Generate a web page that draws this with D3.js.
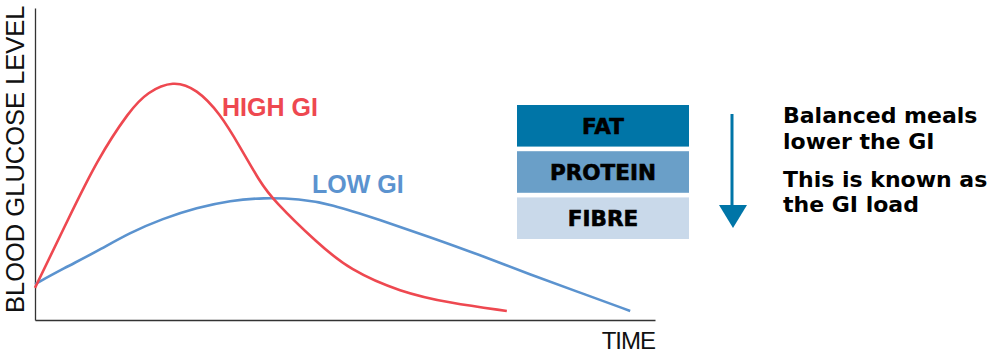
<!DOCTYPE html>
<html>
<head>
<meta charset="utf-8">
<script src="https://cdn.jsdelivr.net/npm/d3@7"></script>
<style>
  body { margin: 0; background: #fff; }
  svg { display: block; }
</style>
</head>
<body>
<div id="chart"></div>
<script>
// Set dimensions and margins
const width = 1000;
const height = 353;
const margin = {left: 35, right: 345, top: 8, bottom: 33};

// Curve data (time units, glucose units)
const highTime = [0, 0.53, 1.00, 1.53, 1.81, 2.23, 2.61, 2.98, 3.31, 3.63, 3.84, 4.55, 5.08, 5.89, 6.69, 7.61];
const highGlucose = [1.03, 3.21, 5.13, 6.73, 7.30, 7.68, 7.40, 6.63, 5.54, 4.42, 3.85, 2.47, 1.60, 0.90, 0.54, 0.29];
const lowTime = [0, 0.45, 1.00, 1.53, 2.06, 2.61, 3.15, 3.68, 4.27, 4.76, 5.56, 6.37, 7.18, 7.98, 8.79, 9.60];
const lowGlucose = [1.15, 1.64, 2.20, 2.80, 3.25, 3.60, 3.83, 3.92, 3.88, 3.72, 3.21, 2.66, 2.08, 1.46, 0.88, 0.29];

// Stacked nutrient boxes
const nutrients = ["FAT", "PROTEIN", "FIBRE"];
const nutrientColors = ["#0075a7", "#6a9fc8", "#c9d9ea"];

// Side notes
const noteLines = ["Balanced meals", "lower the GI", "", "This is known as", "the GI load"];

const svg = d3.select("#chart")
  .append("svg")
  .attr("width", width)
  .attr("height", height);

// x scale: time, y scale: glucose level
const xScale = d3.scaleLinear()
  .domain([0, 10])
  .range([margin.left, width - margin.right]);

const yScale = d3.scaleLinear()
  .domain([0, 10])
  .range([height - margin.bottom, margin.top]);

// axes drawn as plain lines (no ticks)
svg.append("g")
  .attr("transform", `translate(${margin.left},0)`)
  .call(d3.axisLeft(yScale).tickValues([]).tickSizeOuter(0))
  .select(".domain").attr("stroke", "#333").attr("stroke-width", 1.3);

svg.append("g")
  .attr("transform", `translate(0,${height - margin.bottom})`)
  .call(d3.axisBottom(xScale).tickValues([]).tickSizeOuter(0))
  .select(".domain").attr("stroke", "#333").attr("stroke-width", 1.3);

// axis titles
svg.append("text")
  .attr("transform", `translate(${margin.left - 11},${height - 40}) rotate(-90)`)
  .attr("font-family", "Liberation Sans, Arial, sans-serif")
  .attr("font-size", "25.5px")
  .attr("fill", "#111")
  .text("BLOOD GLUCOSE LEVEL");

svg.append("text")
  .attr("x", width - margin.right)
  .attr("y", 349)
  .attr("text-anchor", "end")
  .attr("font-family", "Liberation Sans, Arial, sans-serif")
  .attr("font-size", "24px")
  .attr("letter-spacing", "-1px")
  .attr("fill", "#111")
  .text("TIME");

// lines
const line = d3.line()
  .x(d => xScale(d[0]))
  .y(d => yScale(d[1]))
  .curve(d3.curveBasis);

svg.append("path")
  .datum(lowTime.map((t, i) => [t, lowGlucose[i]]))
  .attr("d", line)
  .attr("fill", "none")
  .attr("stroke", "#5b93cf")
  .attr("stroke-width", 2.6);

svg.append("path")
  .datum(highTime.map((t, i) => [t, highGlucose[i]]))
  .attr("d", line)
  .attr("fill", "none")
  .attr("stroke", "#ee4850")
  .attr("stroke-width", 2.6);

// curve labels
svg.append("text")
  .attr("x", 222).attr("y", 116)
  .attr("font-family", "Liberation Sans, Arial, sans-serif")
  .attr("font-weight", "bold")
  .attr("font-size", "25px")
  .attr("fill", "#ee4850")
  .text("HIGH GI");

svg.append("text")
  .attr("x", 312).attr("y", 193)
  .attr("font-family", "Liberation Sans, Arial, sans-serif")
  .attr("font-weight", "bold")
  .attr("font-size", "25px")
  .attr("fill", "#5b93cf")
  .text("LOW GI");

// nutrient boxes
const boxY = d3.scaleBand()
  .domain(nutrients)
  .range([105, 239])
  .paddingInner(0.1);

const boxes = svg.selectAll(".nutrient")
  .data(nutrients)
  .enter()
  .append("g")
  .attr("class", "nutrient");

boxes.append("rect")
  .attr("x", 517)
  .attr("y", d => boxY(d))
  .attr("width", 172)
  .attr("height", boxY.bandwidth())
  .attr("fill", (d, i) => nutrientColors[i]);

boxes.append("text")
  .attr("x", 603)
  .attr("y", d => boxY(d) + boxY.bandwidth() / 2 + 8)
  .attr("text-anchor", "middle")
  .attr("font-family", "DejaVu Sans, sans-serif")
  .attr("font-weight", "bold")
  .attr("font-size", "21.5px")
  .attr("stroke", "#000")
  .attr("stroke-width", 0.6)
  .attr("fill", "#000")
  .text(d => d);

// arrow
svg.append("line")
  .attr("x1", 732).attr("y1", 114)
  .attr("x2", 732).attr("y2", 208)
  .attr("stroke", "#0075a7")
  .attr("stroke-width", 3);

svg.append("path")
  .attr("d", "M719,205 L747,205 L733,228 Z")
  .attr("fill", "#0075a7");

// notes
svg.append("g")
  .selectAll("text")
  .data(noteLines)
  .enter()
  .append("text")
  .attr("x", 783)
  .attr("y", (d, i) => [123, 149, 0, 187, 212][i])
  .attr("font-family", "DejaVu Sans, sans-serif")
  .attr("font-weight", "bold")
  .attr("font-size", "22px")
  .attr("fill", "#000")
  .text(d => d);
</script>
</body>
</html>
